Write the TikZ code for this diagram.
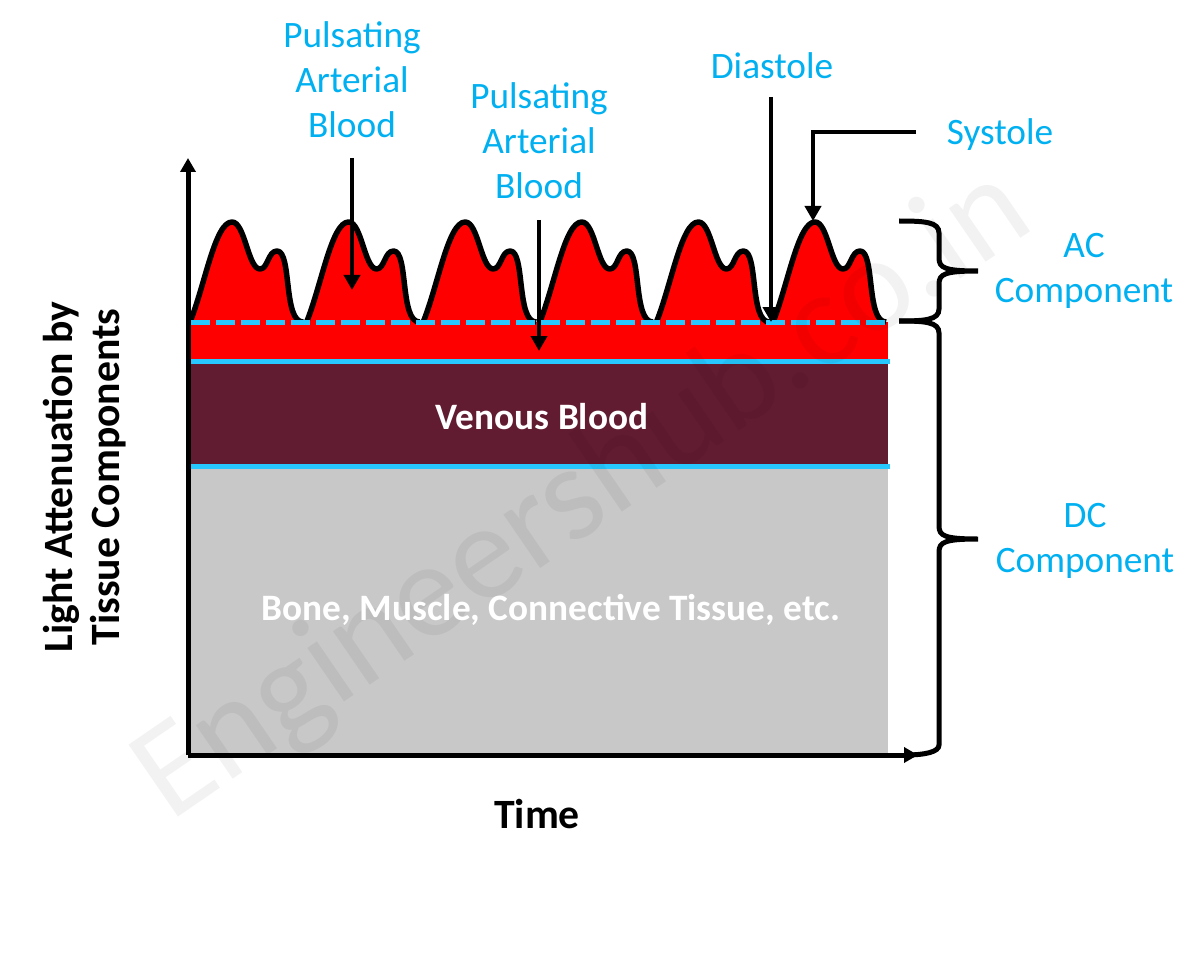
\documentclass[tikz,border=0pt]{standalone}
\usepackage{fontspec}
\setmainfont{Carlito}
\usetikzlibrary{arrows.meta}
\definecolor{labelblue}{RGB}{0,176,240}
\definecolor{linecyan}{RGB}{38,200,255}
\definecolor{venous}{RGB}{98,28,50}
\definecolor{tissue}{RGB}{200,200,200}
\tikzset{
  x=1pt,y=-1pt,
  lab/.style={text=labelblue,font=\fontsize{37.3}{45}\selectfont,align=center,inner sep=0pt},
  inbar/.style={text=white,font=\fontsize{37.3}{45}\selectfont\bfseries,inner sep=0pt},
  axislab/.style={text=black,font=\fontsize{41.7}{47}\selectfont\bfseries,align=center,inner sep=0pt},
  arr/.style={black,line width=4.5pt,-{Triangle[length=15pt,width=16pt]}},
  axisarr/.style={black,line width=5pt,-{Triangle[length=14pt,width=15pt]}},
  brace/.style={black,line width=5pt,line cap=butt},
  wave/.style={fill=red,draw=black,line width=5.5pt,line join=round},
}
\begin{document}
\begin{tikzpicture}
\useasboundingbox (0,0) rectangle (1199,968);
% bands
\fill[tissue] (188,466) rectangle (888,755);
\fill[venous] (188,361) rectangle (888,466);
\fill[red] (188,322) rectangle (888,361);
% waves
\foreach \i in {0,...,5}{
  \begin{scope}[shift={(116.6*\i,0)}]
  \path[wave] (190,322) .. controls (205,285) and (215,222) .. (232,222)
    .. controls (245,222) and (248,269) .. (260,269)
    .. controls (268,269) and (268,251) .. (277,251)
    .. controls (292,251) and (283,322) .. (303,322);
  \end{scope}
}
% lines
\draw[linecyan,line width=5pt,dash pattern=on 19pt off 6pt] (191,322) -- (888,322);
\draw[linecyan,line width=5pt] (188,361) -- (890,361);
\draw[linecyan,line width=5pt] (188,466) -- (890,466);
% watermark
\node[text=black,text opacity=0.05,rotate=34.5,font=\fontsize{136}{136}\selectfont,inner sep=0pt] (wm) at (584,495) {Engineershub.co.in};
% axes
\coordinate (origin) at (188,755);
\coordinate (ytop) at (188,158);
\coordinate (xend) at (918,755);
\draw[axisarr] (origin) -- (ytop);
\draw[axisarr] (origin) -- (xend);
% labels
\node[lab] (p1) at (352,80) {Pulsating\\Arterial\\Blood};
\node[lab] (p2) at (539,141) {Pulsating\\Arterial\\Blood};
\node[lab] (dia) at (772,66) {Diastole};
\node[lab] (sys) at (1000,135) {Systole};
\node[lab] (ac) at (1084,271) {AC\\Component};
\node[lab] (dc) at (1085,541) {DC\\Component};
\node[inbar] (vb) at (542,417) {Venous Blood};
\node[inbar] (bm) at (551,610) {Bone, Muscle, Connective Tissue, etc.};
\node[axislab] (time) at (537,814) {Time};
\node[axislab,rotate=90] (yl) at (85,477) {Light Attenuation by\\Tissue Components};
% arrows
\coordinate (a1s) at (352,158); \coordinate (a1e) at (352,290);
\coordinate (a2s) at (539,220); \coordinate (a2e) at (539,351);
\coordinate (a3s) at (771,97); \coordinate (a3e) at (771,322);
\coordinate (a4s) at (916,132); \coordinate (a4c) at (813,132); \coordinate (a4e) at (813,221);
\draw[arr] (a1s) -- (a1e);
\draw[arr] (a2s) -- (a2e);
\draw[arr] (a3s) -- (a3e);
\draw[arr,line join=miter] (a4s) -- (a4c) -- (a4e);
% braces
\draw[brace] (899,221) .. controls (925,221) and (939,222) .. (939,233) -- (939,258)
  .. controls (939,268) and (945,271) .. (978,271)
  .. controls (945,271) and (939,274) .. (939,284) -- (939,309)
  .. controls (939,320) and (925,321) .. (899,321);
\draw[brace] (899,321) .. controls (925,321) and (939,322) .. (939,333) -- (939,526)
  .. controls (939,536) and (945,539) .. (978,539)
  .. controls (945,539) and (939,542) .. (939,552) -- (939,745)
  .. controls (939,752) and (925,755) .. (905,755);
\end{tikzpicture}
\end{document}
